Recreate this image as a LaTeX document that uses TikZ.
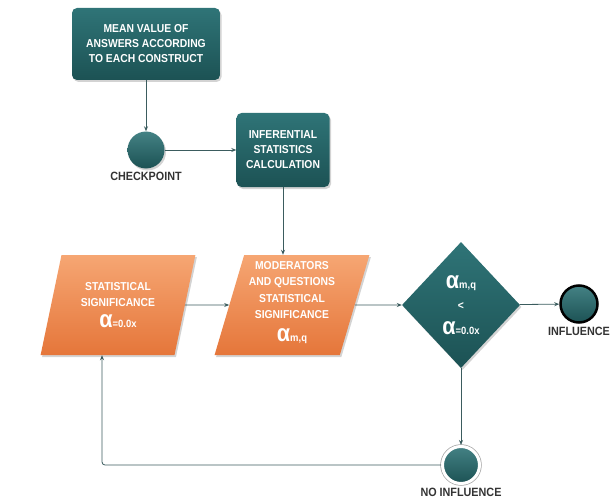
\documentclass[tikz,border=0pt]{standalone}
\usepackage{fontspec}
\newfontfamily\narrowsf[FakeStretch=0.9]{Liberation Sans}
\usetikzlibrary{shapes.geometric,arrows.meta,shadows}
\definecolor{tealtop}{HTML}{2F7477}
\definecolor{tealbot}{HTML}{1C5254}
\definecolor{orangetop}{HTML}{F6A673}
\definecolor{orangebot}{HTML}{E5763A}
\definecolor{linecol}{HTML}{3B5C5E}
\definecolor{labelcol}{HTML}{333333}
\newcommand{\alphasym}[1]{{\fontsize{24}{24}\selectfont α}{\fontsize{10.5}{10.5}\selectfont #1}}

\begin{document}
\begin{tikzpicture}[x=1pt, y=-1pt,
	every node/.style={font=\narrowsf\bfseries\fontsize{11.5}{15}\selectfont, text=white, align=center},
	shade/.style={drop shadow={shadow xshift=1.5pt, shadow yshift=-2pt, opacity=0.35}},
	tealbox/.style={shade, rectangle, rounded corners=5pt, top color=tealtop, bottom color=tealbot, inner sep=0pt},
	databox/.style={shade, trapezium, trapezium left angle=73, trapezium right angle=107, trapezium stretches=true, minimum width=155pt, minimum height=100pt, inner sep=0pt, top color=orangetop, bottom color=orangebot, font=\narrowsf\bfseries\fontsize{11.5}{16.3}\selectfont},
	decision/.style={shade, diamond, minimum width=118pt, minimum height=126pt, inner sep=0pt, top color=tealtop, bottom color=tealbot},
	stop/.style={circle, minimum size=37pt, inner sep=0pt, top color=tealtop!90!white, bottom color=tealbot, label distance=1pt},
	caption/.style={text=labelcol, font=\narrowsf\bfseries\fontsize{12}{12}\selectfont},
	link/.style={draw=linecol, line width=0.8pt, -{Stealth[length=5pt, width=4pt]}}]
	\useasboundingbox (0,0) rectangle (610,500);
	\node[tealbox, minimum width=148pt, minimum height=72pt] (A)at(146, 44) {MEAN VALUE OF\\ANSWERS ACCORDING\\TO EACH CONSTRUCT};
	\node[stop, shade, label={[caption]below:CHECKPOINT}] (B)at(146, 150) {};
	\node[tealbox, minimum width=93pt, minimum height=74pt] (C)at(283, 150) {INFERENTIAL\\STATISTICS\\CALCULATION};
	\node[databox] (D)at(118, 305) {STATISTICAL\\SIGNIFICANCE\\[4pt]\alphasym{=0.0x}};
	\node[databox] (E)at(292, 305) {MODERATORS\\AND QUESTIONS\\STATISTICAL\\SIGNIFICANCE\\[7pt]\alphasym{m,q}\rule[-7pt]{0pt}{7pt}};
	\node[decision] (F)at(461, 305) {\alphasym{m,q}\\[6pt]<\\[10pt]\alphasym{=0.0x}};
	\node[stop, draw=black, line width=2.5pt, label={[caption]below:INFLUENCE}] (G)at(579, 304) {};
	\node[stop, draw=white, line width=3pt, preaction={draw=gray!70, line width=4.5pt}, label={[caption]below:NO INFLUENCE}] (H)at(461, 465) {};
	\draw[link] (A) -- (B);
	\draw[link] (B) -- (C);
	\draw[link] (C) -- (C |- E.north);
	\draw[link] (D) -- (E);
	\draw[link] (E) -- (F);
	\draw[link] (F) -- (G);
	\draw[link] (F) -- (H);
	\draw[link, rounded corners=3pt] (H) -| ([xshift=-16pt]D.south);
\end{tikzpicture}
\end{document}
